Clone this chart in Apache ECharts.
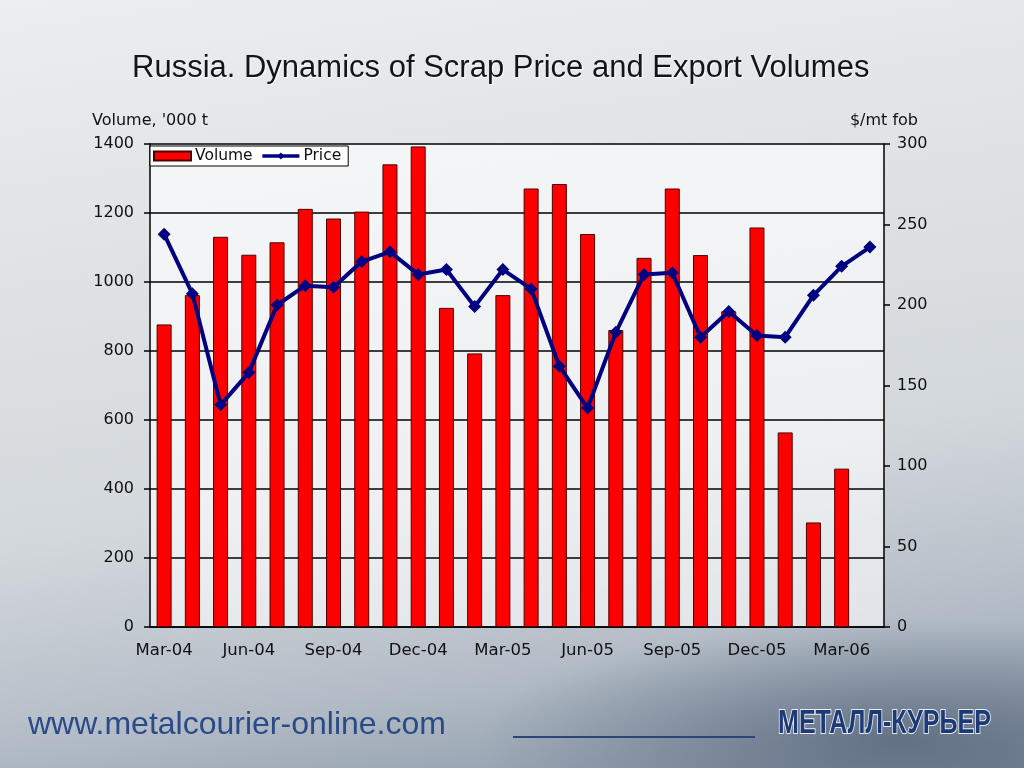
<!DOCTYPE html>
<html>
<head>
<meta charset="utf-8">
<title>Russia. Dynamics of Scrap Price and Export Volumes</title>
<script src="https://cdn.jsdelivr.net/npm/echarts@6/dist/echarts.min.js"></script>
<style>
  html, body {
    margin: 0;
    padding: 0;
    width: 1024px;
    height: 768px;
    overflow: hidden;
  }
  body {
    background:
      radial-gradient(ellipse 420px 120px at 900px 740px, rgba(60, 75, 100, 0.55), rgba(60, 75, 100, 0) 100%),
      linear-gradient(172deg, #eceef0 0%, #dfe3e6 30%, #d3d8dc 60%, #b3bcc6 82%, #8694a5 100%);
  }
  #chart {
    width: 1024px;
    height: 768px;
  }
</style>
</head>
<body>
<div id="chart"></div>
<script>
// months Mar-04 .. Apr-06
const months = ['Mar-04', 'Apr-04', 'May-04', 'Jun-04', 'Jul-04', 'Aug-04', 'Sep-04', 'Oct-04', 'Nov-04', 'Dec-04',
  'Jan-05', 'Feb-05', 'Mar-05', 'Apr-05', 'May-05', 'Jun-05', 'Jul-05', 'Aug-05', 'Sep-05', 'Oct-05',
  'Nov-05', 'Dec-05', 'Jan-06', 'Feb-06', 'Mar-06', 'Apr-06'];
// '000 t
const volume = [877, 962, 1131, 1079, 1115, 1212, 1184, 1204, 1341, 1393,
  925, 793, 962, 1271, 1284, 1139, 861, 1070, 1271, 1078,
  915, 1158, 564, 303, 459, null];
// $/mt fob
const price = [244, 207, 138, 158, 200, 212, 211, 227, 233, 219,
  222, 199, 222, 210, 162, 136, 183, 219, 220, 180,
  196, 181, 180, 206, 224, 236];

const font = 'DejaVu Sans, Verdana, sans-serif';
const plain = v => String(v);

const chart = echarts.init(document.getElementById('chart'));
const option = {
  backgroundColor: 'transparent',
  animation: false,
  title: {
    text: 'Russia. Dynamics of Scrap Price and Export Volumes',
    left: 127,
    top: 48,
    textStyle: {
      fontFamily: 'Liberation Sans, Arial, sans-serif',
      fontSize: 31,
      fontWeight: 'normal',
      color: '#151515',
      textShadowColor: 'rgba(255,255,255,0.9)',
      textShadowOffsetX: 1,
      textShadowOffsetY: 1,
      textShadowBlur: 1
    }
  },
  legend: {
    left: 150,
    top: 146,
    padding: [2, 7, 2, 3],
    itemWidth: 37,
    itemHeight: 9,
    itemGap: 8,
    backgroundColor: '#ffffff',
    borderColor: '#000',
    borderWidth: 1,
    textStyle: { fontFamily: font, fontSize: 15.5, color: '#111', padding: [0, 0, 0, -1] },
    data: [
      { name: 'Volume', icon: 'rect' },
      { name: 'Price', lineStyle: { width: 3.5 } }
    ]
  },
  grid: {
    left: 150,
    right: 140,
    top: 144,
    bottom: 141,
    show: true,
    borderWidth: 0,
    backgroundColor: 'rgba(255,255,255,0.6)'
  },
  xAxis: {
    type: 'category',
    data: months,
    boundaryGap: true,
    axisLine: { lineStyle: { color: '#000', width: 1.5 } },
    axisTick: { interval: 0, length: 6, lineStyle: { color: '#000', width: 1.5 } },
    axisLabel: { interval: 2, margin: 15, fontFamily: font, fontSize: 16.5, color: '#111' }
  },
  yAxis: [
    {
      type: 'value',
      min: 0,
      max: 1400,
      interval: 200,
      axisLine: { show: true, lineStyle: { color: '#000', width: 1.5 } },
      axisTick: { show: true, length: 6, lineStyle: { color: '#000', width: 1.5 } },
      axisLabel: { margin: 16, fontFamily: font, fontSize: 16, color: '#111', formatter: plain, padding: [3, 0, 0, 0] },
      splitLine: { lineStyle: { color: '#000', width: 1.5 } }
    },
    {
      type: 'value',
      position: 'right',
      min: 0,
      max: 300,
      interval: 50,
      axisLine: { show: true, lineStyle: { color: '#000', width: 1.5 } },
      axisTick: { show: true, length: 6, lineStyle: { color: '#000', width: 1.5 } },
      axisLabel: { margin: 13, fontFamily: font, fontSize: 16, color: '#111', formatter: plain, padding: [3, 0, 0, 0] },
      splitLine: { show: false }
    }
  ],
  graphic: [
    {
      type: 'text', left: 92, top: 113,
      style: { text: "Volume, '000 t", font: '16px ' + font, fill: '#111' }
    },
    {
      type: 'text', right: 106, top: 113,
      style: { text: '$/mt fob', font: '16px ' + font, fill: '#111' }
    },
    {
      type: 'text', x: 28, y: 709,
      style: {
        text: 'www.metalcourier-online.com', font: '32px Liberation Sans, Arial, sans-serif',
        fill: '#2a4a88', shadowColor: 'rgba(255,255,255,0.6)', shadowBlur: 3
      }
    },
    {
      type: 'rect', shape: { x: 513, y: 736, width: 242, height: 2 },
      style: { fill: '#2c4577' }
    },
    {
      type: 'text', x: 778, y: 707, scaleX: 0.76,
      style: {
        text: 'МЕТАЛЛ-КУРЬЕР', font: 'bold 33px Liberation Sans, Arial, sans-serif',
        fill: '#1d3a78', stroke: 'rgba(255,255,255,0.85)', lineWidth: 2,
        shadowColor: 'rgba(255,255,255,0.9)', shadowBlur: 8
      }
    }
  ],
  series: [
    {
      name: 'Volume',
      type: 'bar',
      yAxisIndex: 0,
      barWidth: 15,
      data: volume,
      itemStyle: { color: '#ff0000', borderColor: '#500000', borderWidth: 1 }
    },
    {
      name: 'Price',
      type: 'line',
      yAxisIndex: 1,
      data: price,
      symbol: 'diamond',
      symbolSize: 13,
      lineStyle: { color: '#000080', width: 4 },
      itemStyle: { color: '#000080' }
    }
  ]
};
chart.setOption(option);
window.addEventListener('resize', () => {
  chart.resize();
});
</script>
</body>
</html>
